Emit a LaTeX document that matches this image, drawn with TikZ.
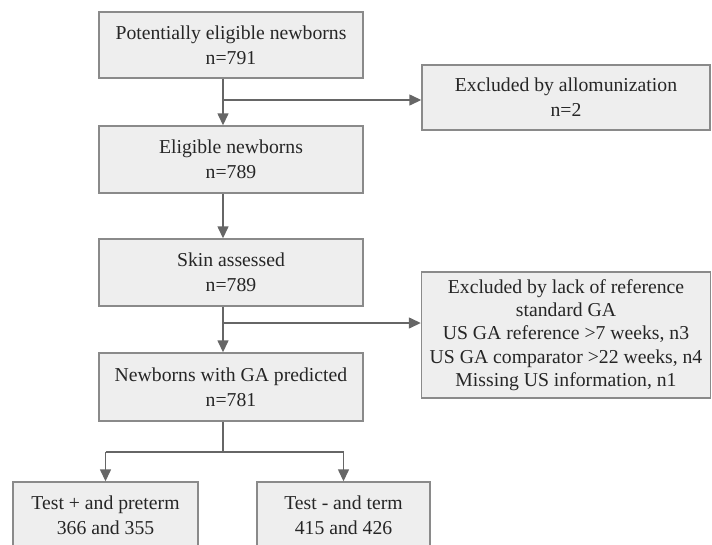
\documentclass[tikz,border=0pt]{standalone}
\usepackage{fontspec}
\setmainfont{Liberation Serif}
\usetikzlibrary{arrows.meta, positioning}
\definecolor{boxfill}{HTML}{EEEEEE}
\definecolor{boxline}{HTML}{8A8A8A}
\definecolor{flowline}{HTML}{666666}
\definecolor{boxtext}{HTML}{262626}
\tikzset{
  flow box/.style={draw=boxline, fill=boxfill, line width=1.4pt, align=center, inner sep=0pt,
    text=boxtext, font=\fontsize{19.7}{25}\selectfont},
  flow arrow/.style={draw=flowline, line width=1.4pt, -{Triangle[length=12pt, width=11pt]}},
  flow line/.style={draw=flowline, line width=1.4pt},
}

\begin{document}
\begin{tikzpicture}[x=1pt, y=-1pt]
  \clip (0,0) rectangle (712,544);
  \node[flow box, minimum width=264pt, minimum height=66pt] (potential) at (231,45)
    {Potentially eligible newborns\\n=791};
  \node[flow box, minimum width=288pt, minimum height=65pt] (exclAllo) at (566,97.5)
    {Excluded by allomunization\\n=2};
  \node[flow box, minimum width=264pt, minimum height=67pt] (eligible) at (231,159.5)
    {Eligible newborns\\n=789};
  \node[flow box, minimum width=264pt, minimum height=67pt] (skin) at (231,272.5)
    {Skin assessed\\n=789};
  \node[flow box, minimum width=289pt, minimum height=126pt,
    font=\fontsize{19.7}{23.3}\selectfont] (exclRef) at (566,335)
    {Excluded by lack of reference\\standard GA\\US GA reference >7 weeks, n3\\
     US GA comparator >22 weeks, n4\\Missing US information, n1};
  \node[flow box, minimum width=264pt, minimum height=68pt] (predicted) at (231,387)
    {Newborns with GA predicted\\n=781};
  \node[flow box, minimum width=185pt, minimum height=67pt] (testPos) at (105.5,515.5)
    {Test + and preterm\\366 and 355};
  \node[flow box, minimum width=173pt, minimum height=67pt] (testNeg) at (343.5,515.5)
    {Test - and term\\415 and 426};

  % main stream, slightly left of the box centres
  \coordinate (split1) at ([xshift=-8pt]potential.south |- 0,100);
  \coordinate (split2) at ([xshift=-8pt]skin.south |- 0,323);
  \coordinate (split3) at ([xshift=-8pt]predicted.south |- 0,452);
  \draw[flow arrow] ([xshift=-8pt]potential.south) -- ([xshift=-8pt]eligible.north);
  \draw[flow arrow] (split1) -- (exclAllo.west |- split1);
  \draw[flow arrow] ([xshift=-8pt]eligible.south) -- ([xshift=-8pt]skin.north);
  \draw[flow arrow] ([xshift=-8pt]skin.south) -- ([xshift=-8pt]predicted.north);
  \draw[flow arrow] (split2) -- (exclRef.west |- split2);

  % split into the two test groups
  \draw[flow line] ([xshift=-8pt]predicted.south) -- (split3);
  \draw[flow line] (testPos.north |- split3) -- (testNeg.north |- split3);
  \draw[flow arrow] (testPos.north |- split3) -- (testPos.north);
  \draw[flow arrow] (testNeg.north |- split3) -- (testNeg.north);
\end{tikzpicture}
\end{document}
